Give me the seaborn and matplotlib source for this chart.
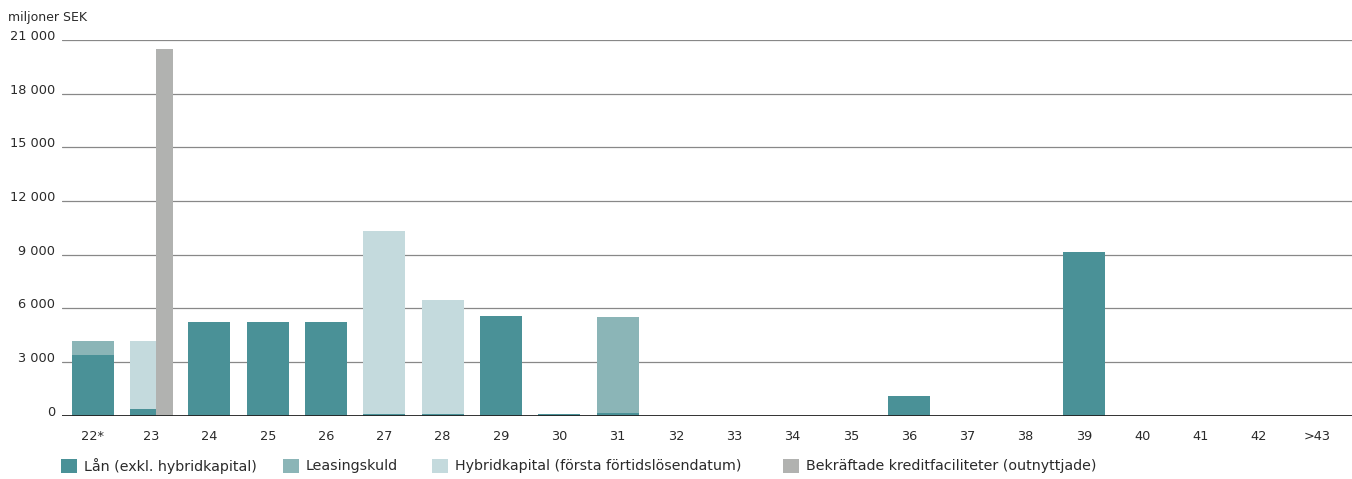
import matplotlib
matplotlib.use("Agg")
import matplotlib.pyplot as plt
from matplotlib.patches import Patch
import seaborn as sns
import pandas as pd
import numpy as np

categories = ["22*", "23", "24", "25", "26", "27", "28", "29", "30", "31", "32",
              "33", "34", "35", "36", "37", "38", "39", "40", "41", "42", ">43"]
lan = [3400, 370, 5250, 5250, 5250, 90, 90, 5550, 90, 130, 0,
       0, 0, 0, 1100, 0, 0, 9150, 0, 0, 0, 0]
leasing = [750, 0, 0, 0, 0, 0, 0, 0, 0, 5370, 0,
           0, 0, 0, 0, 0, 0, 0, 0, 0, 0, 0]
hybrid = [0, 3780, 0, 0, 0, 10230, 6360, 0, 0, 0, 0,
          0, 0, 0, 0, 0, 0, 0, 0, 0, 0, 0]
facility = [0, 20500, 0, 0, 0, 0, 0, 0, 0, 0, 0,
            0, 0, 0, 0, 0, 0, 0, 0, 0, 0, 0]

series_names = ["Lån (exkl. hybridkapital)", "Leasingskuld",
                "Hybridkapital (första förtidslösendatum)",
                "Bekräftade kreditfaciliteter (outnyttjade)"]
colors = ["#4a9197", "#8bb5b7", "#c4dadd", "#b1b2b0"]
yticks = [0, 3000, 6000, 9000, 12000, 15000, 18000, 21000]
ytick_labels = ["0", "3 000", "6 000", "9 000", "12 000", "15 000", "18 000", "21 000"]

sns.set_theme(style="white")
plt.rcParams["font.family"] = ["DejaVu Sans"]

df = pd.DataFrame({"cat": categories, "lan": lan, "leasing": leasing,
                   "hybrid": hybrid, "facility": facility})
df["b1"] = df["lan"]
df["b2"] = df["lan"] + df["leasing"]

fig = plt.figure(figsize=(13.52, 4.79), dpi=100)
ax = fig.add_axes([62 / 1352, 1 - 415.7 / 479, 1 - 62 / 1352, (415.7 - 40) / 479])

W = 0.72
n = len(categories)
sns.barplot(data=df, x="cat", y="lan", color=colors[0], width=W, saturation=1,
            ax=ax, zorder=3, linewidth=0)
sns.barplot(data=df, x="cat", y="leasing", bottom=df["b1"], color=colors[1], width=W,
            saturation=1, ax=ax, zorder=3, linewidth=0)
sns.barplot(data=df, x="cat", y="hybrid", bottom=df["b2"], color=colors[2], width=W,
            saturation=1, ax=ax, zorder=3, linewidth=0)
sns.barplot(data=df, x="cat", y="facility", color=colors[3], width=0.28,
            saturation=1, ax=ax, zorder=3, linewidth=0)

# category "23": stacked part narrower on the left, facility bar to its right
patches = ax.patches
idx23 = categories.index("23")
for s in range(3):
    p = patches[s * n + idx23]
    p.set_x(idx23 - 0.369)
    p.set_width(0.458)
for i in range(n):
    p = patches[3 * n + i]
    p.set_x(i + 0.089)

ax.set_xlim(-0.53, n - 1 + 0.6)
ax.set_ylim(0, 21000)
ax.set_yticks(yticks)
ax.set_yticklabels(ytick_labels)
for lab in ax.get_yticklabels():
    lab.set_va("baseline")
ax.set_xlabel("")
ax.set_ylabel("")
for sp in ax.spines.values():
    sp.set_visible(False)
ax.grid(False)
for y in yticks[1:]:
    ax.axhline(y, color="#888888", lw=0.9, zorder=1)
ax.axhline(0, color="#222222", lw=1.3, zorder=4)

ax.tick_params(axis="both", length=0, labelsize=9.3, colors="#2a2a2a")
ax.tick_params(axis="x", pad=10)
ax.tick_params(axis="y", pad=5)

fig.text(8 / 1352, 1 - 17 / 479, "miljoner SEK", fontsize=9, color="#2a2a2a",
         ha="left", va="center")

# legend entries placed individually to match the reference spacing
legend_x = [61, 283, 432, 783]
for name, c, lx in zip(series_names, colors, legend_x):
    leg = fig.legend([Patch(facecolor=c, edgecolor="none")], [name], loc="center left",
                     bbox_to_anchor=(lx / 1352, 1 - 466 / 479), frameon=False,
                     fontsize=10.3, handlelength=1.12, handleheight=1.12,
                     handletextpad=0.48, borderpad=0, borderaxespad=0,
                     labelcolor="#2a2a2a")

fig.savefig("out.png", dpi=100)
